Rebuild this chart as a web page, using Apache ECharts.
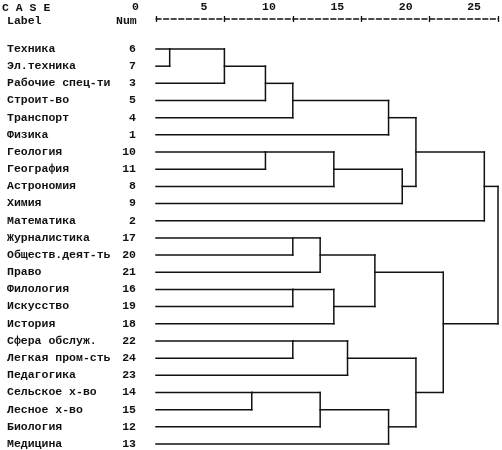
<!DOCTYPE html>
<html>
<head>
<meta charset="utf-8">
<script src="https://cdn.jsdelivr.net/npm/echarts@6/dist/echarts.min.js"></script>
<style>
html,body{margin:0;padding:0;background:#fff;}
#c{width:502px;height:450px;}
</style>
</head>
<body>
<div id="c"></div>
<script>
// Leaves in display order
const labels = ['Техника','Эл.техника','Рабочие спец-ти','Строит-во','Транспорт','Физика',
  'Геология','География','Астрономия','Химия','Математика',
  'Журналистика','Обществ.деят-ть','Право','Филология','Искусство','История',
  'Сфера обслуж.','Легкая пром-сть','Педагогика','Сельское х-во','Лесное х-во','Биология','Медицина'];
const nums = [6,7,3,5,4,1,10,11,8,9,2,17,20,21,16,19,18,22,24,23,14,15,12,13];
// Agglomeration: clusters 0..23 are leaves (row order); each merge creates cluster 24, 25, ...
const mergeA =    [0, 24, 25, 26, 27, 6, 29, 30, 28, 32, 11, 34, 14, 36, 35, 17, 39, 20, 41, 42, 40, 38, 33];
const mergeB =    [1,  2,  3,  4,  5, 7,  8,  9, 31, 10, 12, 13, 15, 16, 37, 18, 19, 21, 22, 23, 43, 44, 45];
const mergeDist = [1,  5,  8, 10, 17, 8, 13, 18, 19, 24, 10, 12, 10, 13, 16, 10, 14,  7, 12, 17, 19, 21, 25];
const tickLabels = [0,5,10,15,20,25];

const FONT = '"Liberation Mono", "DejaVu Sans Mono", monospace';

// build segments from the merge table
const nLeaf = labels.length;
const cx = [], cy = [];
for (let i = 0; i < nLeaf; i++) { cx.push(0); cy.push(i); }
const segs = [];
for (let k = 0; k < mergeA.length; k++) {
  const a = mergeA[k], b = mergeB[k], d = mergeDist[k];
  const ya = cy[a], yb = cy[b];
  segs.push([cx[a], ya, d, ya]);
  segs.push([cx[b], yb, d, yb]);
  segs.push([d, Math.min(ya, yb), d, Math.max(ya, yb)]);
  cx.push(d);
  cy.push(Math.floor((ya + yb) / 2));
}

const chart = echarts.init(document.getElementById('c'), null, {renderer: 'canvas'});
const axisCommon = {
  type: 'value', position: 'top', offset: 30, min: 0, max: 25, interval: 5,
  splitLine: {show: false}
};
chart.setOption({
  animation: false,
  backgroundColor: '#fff',
  grid: {left: 156, right: 4, top: 49, bottom: 5, containLabel: false},
  xAxis: [
    Object.assign({}, axisCommon, {
      axisLine: {show: true, lineStyle: {color: '#111', width: 1.5, type: [5, 2.6]}},
      axisTick: {show: true, length: 3, lineStyle: {color: '#111', width: 1.3}},
      axisLabel: {show: true, margin: 6, align: 'right', padding: [0, 17, 0, 0],
        color: '#111', fontFamily: FONT, fontWeight: 'bold', fontSize: 11.5,
        formatter: v => tickLabels.indexOf(v) >= 0 ? String(v) : ''}
    }),
    Object.assign({}, axisCommon, {
      axisLine: {show: false},
      axisTick: {show: true, inside: true, length: 3, lineStyle: {color: '#111', width: 1.3}},
      axisLabel: {show: false}
    })
  ],
  yAxis: {
    type: 'category', inverse: true, boundaryGap: false, data: labels,
    axisLine: {show: false}, axisTick: {show: false}, splitLine: {show: false},
    axisLabel: {
      margin: 20, interval: 0,
      formatter: (v, i) => '{a|' + v + '}{b|' + nums[i] + '}',
      rich: {
        a: {width: 109, align: 'left', color: '#111', fontFamily: FONT, fontWeight: 'bold', fontSize: 11.5},
        b: {width: 20, align: 'right', color: '#111', fontFamily: FONT, fontWeight: 'bold', fontSize: 11.5}
      }
    }
  },
  graphic: [
    {type: 'text', left: 2, top: 2, style: {text: 'C A S E', font: 'bold 11.5px ' + FONT, fill: '#111'}},
    {type: 'text', left: 7, top: 15, style: {text: 'Label', font: 'bold 11.5px ' + FONT, fill: '#111'}},
    {type: 'text', left: 116, top: 15, style: {text: 'Num', font: 'bold 11.5px ' + FONT, fill: '#111'}}
  ],
  series: [{
    type: 'custom',
    coordinateSystem: 'cartesian2d',
    clip: false,
    silent: true,
    data: segs,
    encode: {x: [0, 2], y: [1, 3]},
    renderItem: function (params, api) {
      const p1 = api.coord([api.value(0), api.value(1)]);
      const p2 = api.coord([api.value(2), api.value(3)]);
      return {
        type: 'line',
        shape: {x1: p1[0], y1: p1[1], x2: p2[0], y2: p2[1]},
        style: {stroke: '#111', lineWidth: 1.5, lineCap: 'square'}
      };
    }
  }]
});
</script>
</body>
</html>
